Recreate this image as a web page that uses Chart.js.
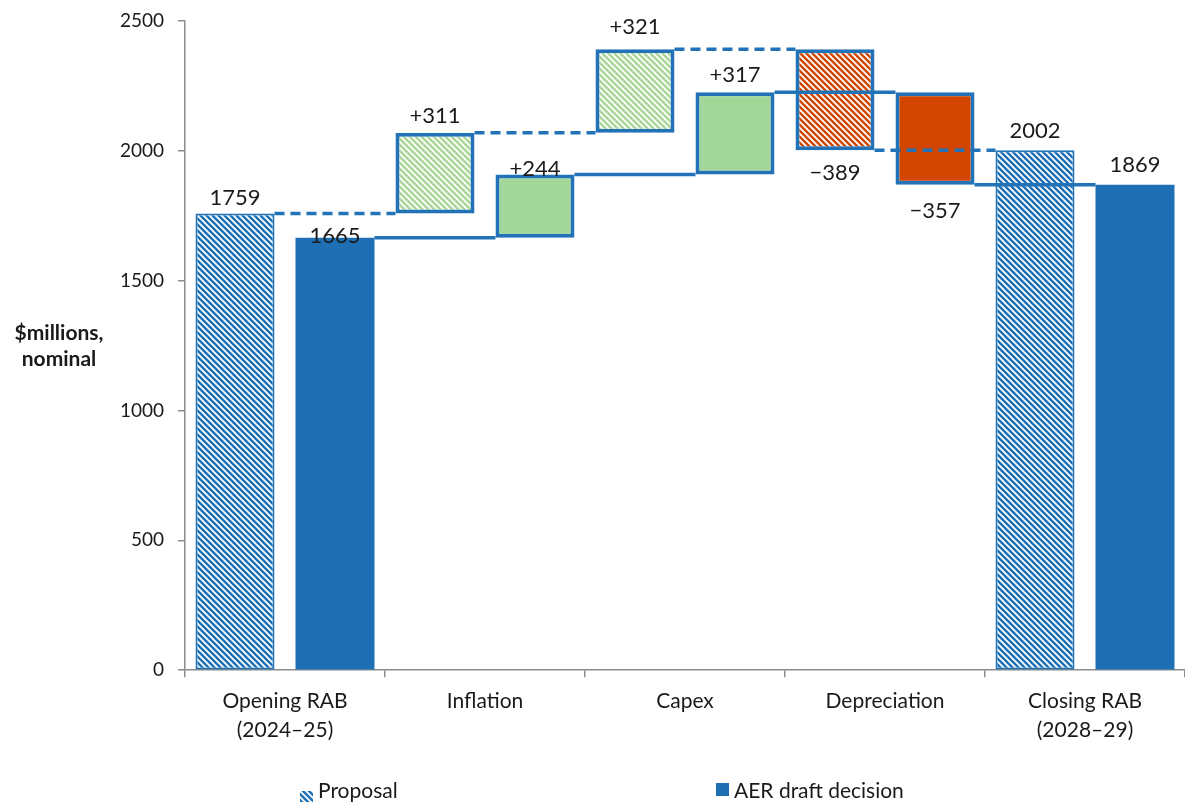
<!DOCTYPE html>
<html>
<head>
<meta charset="utf-8">
<script src="https://cdn.jsdelivr.net/npm/chart.js@4.4.1/dist/chart.umd.min.js"></script>
<style>
  html, body { margin: 0; padding: 0; background: #fff; }
  #wrap { position: relative; width: 1185px; height: 802px; }
  .legend { position: absolute; top: 777px; font: 21px Lato, sans-serif; color: #1a1a1a; display: flex; align-items: center; }
  .sw { width: 13px; height: 13px; margin-right: 5px; }
</style>
</head>
<body>
<div id="wrap">
  <canvas id="chart" width="1185" height="802"></canvas>
  <div class="legend" style="left:300px"><span class="sw" id="swProp"></span>Proposal</div>
  <div class="legend" style="left:716px"><span class="sw" style="background:#1f6fb5"></span>AER draft decision</div>
</div>
<script>
const categories = [["Opening RAB", "(2024–25)"], "Inflation", "Capex", "Depreciation", ["Closing RAB", "(2028–29)"]];
const proposalValues = [1759, 311, 321, -389, 2002];
const aerValues = [1665, 244, 317, -357, 1869];
const yTicks = [0, 500, 1000, 1500, 2000, 2500];

const BLUE = '#1f6fb5';
const EDGE = '#2272b8';
const GREEN = '#a1d799';
const GREEN_HATCH = '#a9d795';
const ORANGE = '#d24600';

function hatch(color) {
  const s = 6;
  const c = document.createElement('canvas');
  c.width = s; c.height = s;
  const g = c.getContext('2d');
  g.fillStyle = color;
  g.fillRect(0, 0, s, s);
  g.strokeStyle = '#fff';
  g.lineWidth = 1.8;
  g.beginPath();
  g.moveTo(-1, -1); g.lineTo(s + 1, s + 1);
  g.moveTo(-1, s - 1); g.lineTo(1, s + 1);
  g.moveTo(s - 1, -1); g.lineTo(s + 1, 1);
  g.stroke();
  return g.createPattern(c, 'repeat');
}

// first and last are totals, the rest are changes
function ranges(vals) {
  let run = 0;
  return vals.map((v, i) => {
    if (i === 0 || i === vals.length - 1) { run = v; return [0, v]; }
    const r = [run, run + v];
    run += v;
    return r;
  });
}
function ends(vals) {
  return ranges(vals).map(r => r[1]);
}
function labelText(v, i, n) {
  if (i === 0 || i === n - 1) return String(v);
  return v > 0 ? '+' + v : '\u2212' + Math.abs(v);
}
function kind(vals) {
  return vals.map((v, i) => (i === 0 || i === vals.length - 1) ? 'total' : (v > 0 ? 'up' : 'down'));
}

const hBlue = hatch(BLUE), hGreen = hatch(GREEN_HATCH), hOrange = hatch(ORANGE);
const propFill = kind(proposalValues).map(k => k === 'total' ? hBlue : k === 'up' ? hGreen : hOrange);
const aerFill = kind(aerValues).map(k => k === 'total' ? BLUE : k === 'up' ? GREEN : ORANGE);
const propBorder = kind(proposalValues).map(k => k === 'total' ? 2 : 4);
const aerBorder = kind(aerValues).map(k => k === 'total' ? 0 : 4);

// legend swatch
(function () {
  const sw = document.getElementById('swProp');
  const c = document.createElement('canvas');
  c.width = 13; c.height = 13;
  const g = c.getContext('2d');
  g.fillStyle = hBlue; g.fillRect(0, 0, 13, 13);
  sw.appendChild(c);
})();

const seriesVals = [proposalValues, aerValues];

const connectors = {
  id: 'connectors',
  afterDatasetsDraw(chart) {
    const ctx = chart.ctx;
    const y = chart.scales.y;
    seriesVals.forEach((vals, d) => {
      const meta = chart.getDatasetMeta(d);
      const e = ends(vals);
      ctx.save();
      ctx.strokeStyle = EDGE;
      ctx.lineWidth = 3.5;
      ctx.setLineDash(d === 0 ? [10, 6] : []);
      for (let i = 0; i < vals.length - 1; i++) {
        const a = meta.data[i], b = meta.data[i + 1];
        const py = y.getPixelForValue(e[i]);
        ctx.beginPath();
        ctx.moveTo(a.x + a.width / 2, py);
        ctx.lineTo(b.x - b.width / 2, py);
        ctx.stroke();
      }
      ctx.restore();
    });
  }
};

const barLabels = {
  id: 'barLabels',
  afterDraw(chart, args, opts) {
    const ctx = chart.ctx;
    ctx.save();
    ctx.font = '22px Lato, sans-serif';
    ctx.fillStyle = '#1a1a1a';
    ctx.textAlign = 'center';
    ctx.textBaseline = 'middle';
    seriesVals.forEach((vals, d) => {
      const meta = chart.getDatasetMeta(d);
      vals.forEach((v, i) => {
        const el = meta.data[i];
        const top = Math.min(el.y, el.base), bottom = Math.max(el.y, el.base);
        const off = opts.offsets[d][i];
        const ty = v < 0 ? bottom + off : top - off;
        ctx.fillText(labelText(v, i, vals.length), el.x, ty);
      });
    });
    ctx.restore();
  }
};

const yTitle = {
  id: 'yTitle',
  afterDraw(chart) {
    const ctx = chart.ctx;
    ctx.save();
    ctx.font = 'bold 21px Lato, sans-serif';
    ctx.fillStyle = '#1a1a1a';
    ctx.textAlign = 'center';
    ctx.textBaseline = 'middle';
    ctx.fillText('$millions,', 59, 333);
    ctx.fillText('nominal', 59, 359);
    ctx.restore();
  }
};

new Chart(document.getElementById('chart'), {
  type: 'bar',
  data: {
    labels: categories,
    datasets: [
      {
        label: 'Proposal',
        data: ranges(proposalValues),
        backgroundColor: propFill,
        borderColor: EDGE,
        borderWidth: propBorder,
        borderSkipped: false
      },
      {
        label: 'AER draft decision',
        data: ranges(aerValues),
        backgroundColor: aerFill,
        borderColor: EDGE,
        borderWidth: aerBorder,
        borderSkipped: false
      }
    ]
  },
  options: {
    responsive: false,
    animation: false,
    categoryPercentage: 1.0,
    barPercentage: 0.79,
    layout: { padding: { top: 21, right: 0, bottom: 48, left: 0 } },
    plugins: {
      legend: { display: false },
      tooltip: { enabled: false },
      barLabels: {
        offsets: [[16, 17, 22, 23, 19], [2, 6, 17, 26, 20]]
      }
    },
    scales: {
      x: {
        grid: { drawOnChartArea: false, offset: true, tickLength: 7, color: '#8c8c8c', lineWidth: 1.5 },
        border: { color: '#8c8c8c', width: 1.5 },
        ticks: { color: '#1a1a1a', font: { family: 'Lato', size: 21, lineHeight: 1.4 }, padding: 9, maxRotation: 0 }
      },
      y: {
        min: 0,
        max: 2500,
        afterFit(s) { s.width = 185; s.paddingTop = 0; },
        afterBuildTicks(s) { s.ticks = yTicks.map(v => ({ value: v })); },
        grid: { drawOnChartArea: false, tickLength: 7, color: '#8c8c8c', lineWidth: 1.5 },
        border: { color: '#8c8c8c', width: 1.5 },
        ticks: { color: '#1a1a1a', font: { family: 'Lato', size: 19 }, padding: 14, callback: v => String(v) }
      }
    }
  },
  plugins: [connectors, barLabels, yTitle]
});
</script>
</body>
</html>
